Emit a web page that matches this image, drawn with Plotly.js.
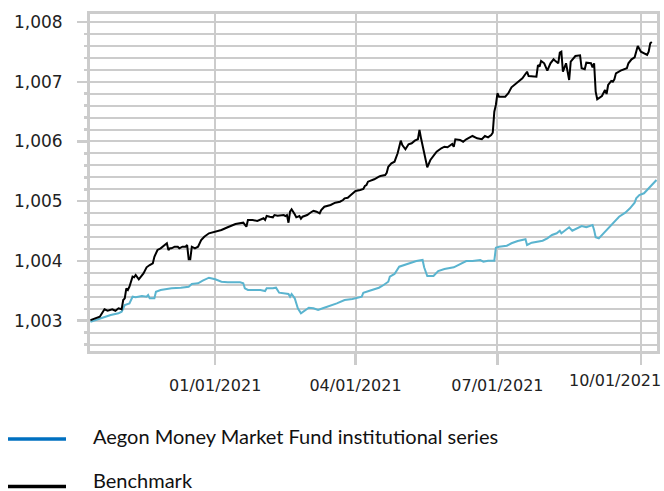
<!DOCTYPE html>
<html>
<head>
<meta charset="utf-8">
<script src="https://cdn.plot.ly/plotly-3.0.1.min.js"></script>
<style>html,body{margin:0;padding:0;background:#fff;}#chart{width:664px;height:491px;}</style>
</head>
<body>
<div id="chart"></div>
<script>
const seriesNames = ["Aegon Money Market Fund institutional series", "Benchmark"];
const legendColors = ["#0070c0", "#000000"];
const lineColors = ["#5ab4cf", "#000000"];

const fundDates = ["2020-10-13","2020-10-18","2020-10-22","2020-10-26","2020-10-31","2020-11-02","2020-11-04","2020-11-07","2020-11-09","2020-11-11","2020-11-15","2020-11-18","2020-11-19","2020-11-20","2020-11-23","2020-11-24","2020-11-27","2020-12-04","2020-12-10","2020-12-15","2020-12-17","2020-12-21","2020-12-24","2020-12-28","2021-01-01","2021-01-05","2021-01-09","2021-01-17","2021-01-19","2021-01-20","2021-01-22","2021-01-25","2021-01-30","2021-02-02","2021-02-03","2021-02-07","2021-02-09","2021-02-11","2021-02-15","2021-02-17","2021-02-18","2021-02-19","2021-02-21","2021-02-23","2021-02-25","2021-02-28","2021-03-02","2021-03-05","2021-03-08","2021-03-11","2021-03-16","2021-03-20","2021-03-25","2021-03-30","2021-04-05","2021-04-06","2021-04-10","2021-04-16","2021-04-19","2021-04-22","2021-04-23","2021-04-26","2021-04-29","2021-05-02","2021-05-06","2021-05-10","2021-05-14","2021-05-15","2021-05-17","2021-05-21","2021-05-24","2021-05-28","2021-06-03","2021-06-07","2021-06-11","2021-06-15","2021-06-20","2021-06-22","2021-06-25","2021-06-29","2021-06-30","2021-07-02","2021-07-07","2021-07-10","2021-07-14","2021-07-19","2021-07-20","2021-07-23","2021-07-27","2021-07-30","2021-08-02","2021-08-05","2021-08-08","2021-08-10","2021-08-11","2021-08-14","2021-08-16","2021-08-18","2021-08-21","2021-08-24","2021-08-27","2021-08-31","2021-09-01","2021-09-02","2021-09-04","2021-09-06","2021-09-08","2021-09-11","2021-09-14","2021-09-17","2021-09-21","2021-09-24","2021-09-27","2021-09-28","2021-09-30","2021-10-03","2021-10-05","2021-10-07","2021-10-10","2021-10-11"];
const fundValues = [1.002983,1.003023,1.003067,1.003095,1.003124,1.003151,1.003263,1.003291,1.003402,1.003392,1.003413,1.003402,1.00343,1.003375,1.003375,1.003485,1.003514,1.003542,1.003552,1.003569,1.003614,1.003626,1.00367,1.00372,1.003693,1.003653,1.003643,1.003643,1.003626,1.003542,1.003514,1.003514,1.003514,1.003497,1.003542,1.003542,1.003552,1.003469,1.003459,1.003447,1.003402,1.003447,1.003375,1.003208,1.003124,1.003179,1.003218,1.003208,1.003179,1.003208,1.003251,1.003291,1.003347,1.003363,1.003402,1.003469,1.003502,1.003552,1.003598,1.003653,1.003737,1.003782,1.003904,1.003932,1.003961,1.003999,1.004016,1.003894,1.003748,1.003748,1.003832,1.003865,1.003894,1.003944,1.003999,1.003999,1.004016,1.003988,1.004004,1.004004,1.004222,1.004239,1.004256,1.004296,1.004334,1.004363,1.004267,1.004306,1.004323,1.004339,1.004379,1.004435,1.004463,1.004507,1.004463,1.004518,1.004564,1.004507,1.004547,1.004585,1.004564,1.004602,1.004518,1.004396,1.004379,1.004435,1.00449,1.004564,1.004657,1.004741,1.004808,1.004881,1.004975,1.005049,1.005104,1.005133,1.005188,1.005243,1.005327,1.005355];

const benchDates = ["2020-10-13","2020-10-19","2020-10-21","2020-10-22","2020-10-24","2020-10-25","2020-10-27","2020-10-29","2020-10-31","2020-11-02","2020-11-03","2020-11-04","2020-11-05","2020-11-06","2020-11-07","2020-11-09","2020-11-10","2020-11-11","2020-11-12","2020-11-13","2020-11-16","2020-11-18","2020-11-20","2020-11-22","2020-11-23","2020-11-24","2020-11-25","2020-11-27","2020-11-30","2020-12-01","2020-12-02","2020-12-03","2020-12-04","2020-12-06","2020-12-08","2020-12-09","2020-12-11","2020-12-13","2020-12-14","2020-12-15","2020-12-16","2020-12-17","2020-12-19","2020-12-21","2020-12-23","2020-12-25","2020-12-28","2021-01-01","2021-01-05","2021-01-09","2021-01-14","2021-01-19","2021-01-21","2021-01-22","2021-01-25","2021-01-28","2021-01-30","2021-02-01","2021-02-02","2021-02-03","2021-02-05","2021-02-07","2021-02-08","2021-02-10","2021-02-14","2021-02-15","2021-02-16","2021-02-17","2021-02-18","2021-02-19","2021-02-21","2021-02-22","2021-02-24","2021-02-25","2021-02-26","2021-03-01","2021-03-03","2021-03-05","2021-03-07","2021-03-09","2021-03-10","2021-03-12","2021-03-16","2021-03-19","2021-03-22","2021-03-24","2021-03-25","2021-03-27","2021-03-29","2021-04-01","2021-04-04","2021-04-06","2021-04-07","2021-04-08","2021-04-09","2021-04-11","2021-04-13","2021-04-16","2021-04-17","2021-04-20","2021-04-21","2021-04-22","2021-04-24","2021-04-26","2021-04-28","2021-04-30","2021-05-01","2021-05-03","2021-05-05","2021-05-07","2021-05-09","2021-05-11","2021-05-12","2021-05-13","2021-05-15","2021-05-17","2021-05-19","2021-05-21","2021-05-23","2021-05-26","2021-05-28","2021-05-30","2021-06-02","2021-06-03","2021-06-04","2021-06-07","2021-06-09","2021-06-11","2021-06-13","2021-06-15","2021-06-18","2021-06-21","2021-06-23","2021-06-25","2021-06-27","2021-06-28","2021-06-29","2021-06-30","2021-07-01","2021-07-02","2021-07-06","2021-07-08","2021-07-10","2021-07-14","2021-07-17","2021-07-20","2021-07-21","2021-07-26","2021-07-27","2021-07-28","2021-07-29","2021-07-31","2021-08-02","2021-08-04","2021-08-06","2021-08-07","2021-08-09","2021-08-10","2021-08-11","2021-08-12","2021-08-13","2021-08-14","2021-08-16","2021-08-17","2021-08-20","2021-08-23","2021-08-24","2021-08-26","2021-08-27","2021-08-30","2021-08-31","2021-09-01","2021-09-02","2021-09-03","2021-09-06","2021-09-08","2021-09-09","2021-09-10","2021-09-12","2021-09-13","2021-09-14","2021-09-15","2021-09-18","2021-09-22","2021-09-23","2021-09-25","2021-09-27","2021-09-28","2021-09-29","2021-10-01","2021-10-03","2021-10-05","2021-10-06","2021-10-07","2021-10-08"];
const benchValues = [1.00301,1.003067,1.003151,1.003191,1.003167,1.003179,1.003191,1.003167,1.003208,1.003191,1.003347,1.003375,1.003542,1.003514,1.003569,1.003737,1.003727,1.003765,1.003727,1.003693,1.003793,1.003894,1.003932,1.003961,1.004071,1.004128,1.004184,1.004212,1.004267,1.004296,1.004184,1.004212,1.004212,1.004239,1.004239,1.004212,1.004239,1.004239,1.004267,1.004028,1.004028,1.004239,1.004212,1.004239,1.004351,1.004406,1.004463,1.00449,1.004518,1.004564,1.004619,1.004641,1.004574,1.004686,1.004686,1.004669,1.004697,1.004714,1.004686,1.004753,1.004741,1.004731,1.004769,1.004758,1.004769,1.004753,1.004769,1.004641,1.004825,1.004865,1.004781,1.004731,1.004753,1.004707,1.004741,1.004769,1.004808,1.004841,1.004825,1.004798,1.004853,1.004908,1.004937,1.004975,1.004992,1.00502,1.005049,1.005059,1.005104,1.005171,1.005188,1.005205,1.005255,1.005272,1.005327,1.005344,1.005367,1.005411,1.005422,1.005439,1.005477,1.005578,1.005634,1.005662,1.005802,1.006013,1.005941,1.005869,1.005953,1.00597,1.006013,1.006037,1.006192,1.006053,1.005802,1.005568,1.00569,1.005757,1.005829,1.005886,1.005913,1.005903,1.005958,1.005913,1.006037,1.006025,1.005996,1.006037,1.00607,1.006092,1.006053,1.006037,1.006092,1.00607,1.006109,1.006147,1.006499,1.006611,1.006807,1.00675,1.00675,1.006807,1.006907,1.007001,1.007058,1.007168,1.007096,1.007084,1.00728,1.007252,1.007347,1.007309,1.007185,1.007309,1.007376,1.007353,1.007309,1.007486,1.007503,1.007168,1.007252,1.007309,1.007029,1.007336,1.007431,1.007443,1.007225,1.007208,1.007319,1.007309,1.007242,1.007309,1.006835,1.006706,1.006761,1.006862,1.006795,1.006946,1.007013,1.007001,1.007041,1.007141,1.007185,1.007225,1.007309,1.007376,1.007409,1.007486,1.007598,1.007503,1.007476,1.007448,1.007503,1.007644,1.007665];

const xTickVals = ["2021-01-01","2021-04-01","2021-07-01","2021-10-01"];
const xTickText = ["01/01/2021","04/01/2021","07/01/2021","10/01/2021"];
const yTickVals = [1.003,1.004,1.005,1.006,1.007,1.008];
const yTickText = ["1,003","1,004","1,005","1,006","1,007","1,008"];

const W = 664, H = 491;
const M = {l: 90, r: 7, t: 14, b: 140};
const pw = W - M.l - M.r, ph = H - M.t - M.b;
const px = v => (v - M.l) / pw;
const py = v => (H - M.b - v) / ph;

const grid = "#cccccc";
const yTickFont = {family: "DejaVu Sans, Verdana, sans-serif", size: 17, color: "#222222"};
const xTickFont = {family: "DejaVu Sans, Verdana, sans-serif", size: 16, color: "#222222"};

const traces = [
  {x: fundDates, y: fundValues, type: "scatter", mode: "lines", name: seriesNames[0],
   line: {color: lineColors[0], width: 2}, showlegend: false, hoverinfo: "skip"},
  {x: benchDates, y: benchValues, type: "scatter", mode: "lines", name: seriesNames[1],
   line: {color: lineColors[1], width: 2}, showlegend: false, hoverinfo: "skip"}
];

const legendY = [439, 486.5];
const legendTextY = [436, 480];
const shapes = [], annotations = [];
seriesNames.forEach((n, i) => {
  shapes.push({type: "line", xref: "paper", yref: "paper",
    x0: px(8), x1: px(66), y0: py(legendY[i]), y1: py(legendY[i]),
    line: {color: legendColors[i], width: 3.5}});
  annotations.push({xref: "paper", yref: "paper", x: px(91), y: py(legendTextY[i]),
    xanchor: "left", yanchor: "middle", showarrow: false, text: n,
    font: {family: "Lato, 'Noto Sans', sans-serif", size: 20, color: "#111111"}});
});
// last x tick label is pulled inside the canvas, as in the reference
annotations.push({xref: "paper", yref: "paper", x: px(663), y: py(380),
  xanchor: "right", yanchor: "middle", showarrow: false, text: xTickText[3], font: xTickFont});

const layout = {
  width: W, height: H, margin: M,
  paper_bgcolor: "#ffffff", plot_bgcolor: "#ffffff",
  separators: ",.",
  showlegend: false,
  xaxis: {
    type: "date", range: ["2020-10-12 17:00", "2021-10-11 08:00"],
    tickvals: xTickVals, ticktext: xTickText.slice(0, 3).concat([""]),
    showgrid: true, gridcolor: grid, gridwidth: 2,
    showline: true, linecolor: grid, linewidth: 3, mirror: true,
    ticks: "outside", ticklen: 11, tickwidth: 2.5, tickcolor: grid,
    ticklabelstandoff: 7, tickfont: xTickFont, zeroline: false, fixedrange: true
  },
  yaxis: {
    range: [1.002493, 1.008134],
    tickvals: yTickVals, ticktext: yTickText,
    showgrid: true, gridcolor: grid, gridwidth: 2,
    showline: true, linecolor: grid, linewidth: 3, mirror: true,
    ticks: "outside", ticklen: 10, tickwidth: 2.5, tickcolor: grid,
    ticklabelstandoff: 11, tickfont: yTickFont, zeroline: false, fixedrange: true,
    minor: {dtick: 0.0002, tick0: 1.003, showgrid: true, gridcolor: grid, gridwidth: 2,
            ticks: "outside", ticklen: 3, tickwidth: 2.5, tickcolor: grid}
  },
  shapes: shapes,
  annotations: annotations
};

Plotly.newPlot("chart", traces, layout, {staticPlot: true, displayModeBar: false});
</script>
</body>
</html>
